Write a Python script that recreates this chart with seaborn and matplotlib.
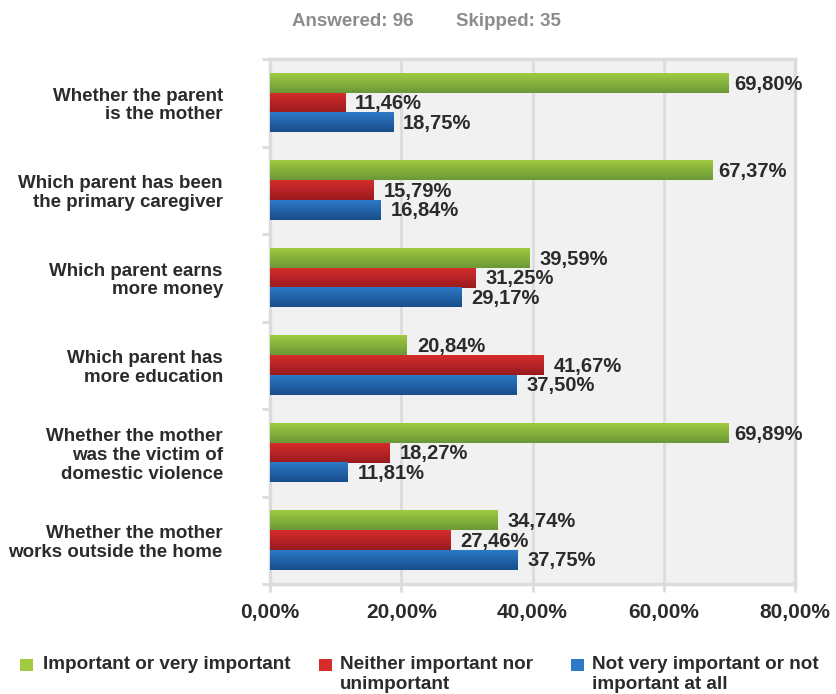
import numpy as np
import pandas as pd
import matplotlib
matplotlib.use("Agg")
import matplotlib.pyplot as plt
from matplotlib.colors import LinearSegmentedColormap, to_rgba
from matplotlib.patches import Rectangle
import seaborn as sns

# Survey results (percent of respondents)
factors = [
    "Whether the parent\nis the mother",
    "Which parent has been\nthe primary caregiver",
    "Which parent earns\nmore money",
    "Which parent has\nmore education",
    "Whether the mother\nwas the victim of\ndomestic violence",
    "Whether the mother\nworks outside the home",
]
levels = [
    "Important or very important",
    "Neither important nor\nunimportant",
    "Not very important or not\nimportant at all",
]
important = [69.80, 67.37, 39.59, 20.84, 69.89, 34.74]
neutral = [11.46, 15.79, 31.25, 41.67, 18.27, 27.46]
not_important = [18.75, 16.84, 29.17, 37.50, 11.81, 37.75]
x_ticks = [0, 20, 40, 60, 80]
answered, skipped = 96, 35

df = pd.DataFrame({
    "factor": factors * 3,
    "level": [levels[0]] * 6 + [levels[1]] * 6 + [levels[2]] * 6,
    "pct": important + neutral + not_important,
})

# light top -> dark bottom for each series
grad = {
    levels[0]: ("#a0ca40", "#6b9838"),
    levels[1]: ("#d62c2c", "#981a1e"),
    levels[2]: ("#2c7ac7", "#184d8a"),
}
mid = {k: v[0] for k, v in grad.items()}

plt.rcParams["font.family"] = ["Liberation Sans", "DejaVu Sans"]
plt.rcParams["font.weight"] = "bold"

fig = plt.figure(figsize=(8.37, 6.94), dpi=100)
ax = fig.add_axes([270 / 837, 1 - 584 / 694, 525 / 837, 525 / 694])

sns.barplot(data=df, y="factor", x="pct", hue="level", order=factors,
            hue_order=levels, palette=mid, orient="h", width=0.67,
            ax=ax, legend=False, zorder=3)

# gradient fill over each bar
for patch in ax.patches:
    x0, y0 = patch.get_x(), patch.get_y()
    w, h = patch.get_width(), patch.get_height()
    fc = np.array(patch.get_facecolor())
    key = min(mid, key=lambda k: np.sum((np.array(to_rgba(mid[k])) - fc) ** 2))
    cmap = LinearSegmentedColormap.from_list("g", list(grad[key]))
    ax.imshow(np.linspace(0, 1, 64).reshape(-1, 1), cmap=cmap, aspect="auto",
              extent=(x0, x0 + w, y0 + h, y0), origin="upper", zorder=3.5,
              interpolation="bilinear")
ax.set_xlim(0, 80)
ax.set_ylim(5.5, -0.5)

# value labels at bar ends (tighter on the long bars near the frame)
for container, vals in zip(ax.containers, [important, neutral, not_important]):
    for patch, v in zip(container, vals):
        gap = 6 if v > 60 else 10
        ax.annotate(f"{v:.2f}%".replace(".", ","),
                    (patch.get_x() + patch.get_width(), patch.get_y() + patch.get_height() / 2),
                    xytext=(gap, -1), textcoords="offset pixels",
                    ha="left", va="center", fontsize=14.5, fontweight="bold",
                    color="#2b2b2b", zorder=5, annotation_clip=False)

# axes styling
ax.set_facecolor("#f1f1f1")
grid_c = "#dcdcdc"
for s in ax.spines.values():
    s.set_color(grid_c)
    s.set_linewidth(2.5)
ax.set_xticks(x_ticks)
ax.set_xticklabels([f"{t:.2f}%".replace(".", ",") for t in x_ticks],
                   fontsize=15, fontweight="bold", color="#2b2b2b")
ax.tick_params(axis="x", direction="inout", length=12, width=2, color=grid_c, pad=8)
ax.xaxis.grid(True, color=grid_c, linewidth=2, zorder=0)
ax.set_axisbelow(True)

ax.set_yticks(range(len(factors)))
ax.set_yticklabels(factors, fontsize=13.5, fontweight="bold", color="#2b2b2b",
                   linespacing=1.12)
ax.tick_params(axis="y", length=0, pad=34)
ax.set_yticks(np.arange(-0.5, len(factors)), minor=True)
ax.tick_params(axis="y", which="minor", length=6, width=2, color=grid_c)
ax.set_xlabel("")
ax.set_ylabel("")

# header
fig.text(292 / 837, 1 - 21 / 694, f"Answered: {answered}", fontsize=13.5, fontweight="bold",
         color="#8c8c8c", ha="left", va="center")
fig.text(456 / 837, 1 - 21 / 694, f"Skipped: {skipped}", fontsize=13.5, fontweight="bold",
         color="#8c8c8c", ha="left", va="center")

# legend
for lvl, sx, tx in zip(levels, [20, 319, 571], [43, 340, 592]):
    fig.patches.append(Rectangle((sx / 837, 1 - 671 / 694), 13 / 837, 12 / 694,
                                 transform=fig.transFigure, facecolor=mid[lvl],
                                 edgecolor="none"))
    fig.text(tx / 837, 1 - 656 / 694, lvl, fontsize=13.6, fontweight="bold",
             color="#2b2b2b", ha="left", va="top", linespacing=1.2)

fig.savefig("out.png", dpi=100, facecolor="white")
